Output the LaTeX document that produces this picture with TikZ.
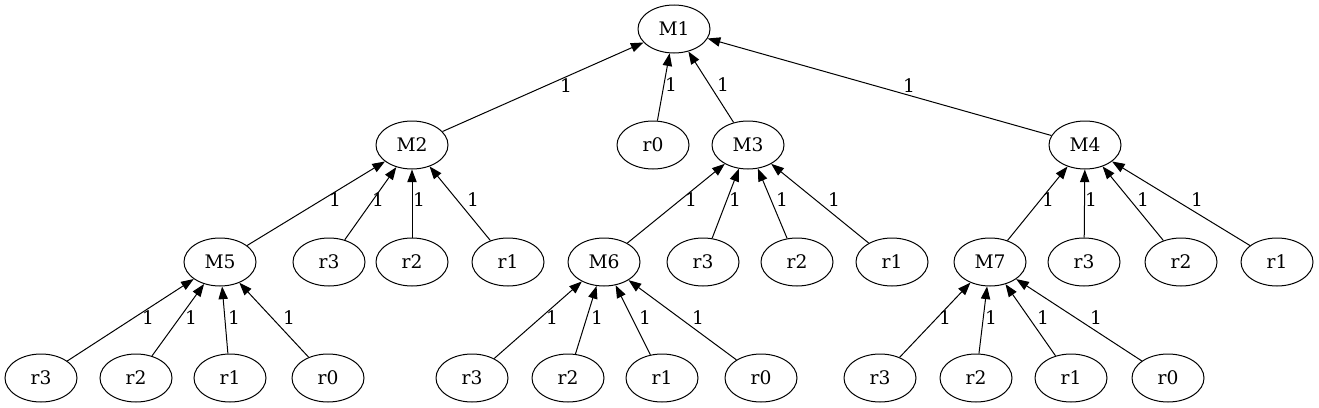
\documentclass[tikz,border=0pt]{standalone}
\usepackage{fontspec}
\setmainfont{DejaVu Serif}
\usetikzlibrary{shapes.geometric,arrows.meta}
\begin{document}
\begin{tikzpicture}[x=0.75pt,y=-0.75pt,
 nd/.style={ellipse,draw,line width=0.75pt,minimum width=54pt,minimum height=36pt,inner sep=0pt,font=\fontsize{14}{16}\selectfont},
 arr/.style={-{Triangle[length=9.5pt,width=7pt]},line width=0.75pt},
 lbl/.style={font=\fontsize{14}{16}\selectfont,inner sep=0pt}]
\useasboundingbox (0,0) rectangle (1319,407);
% level 1
\node[nd] (m1) at (674,29) {M1};
% level 2
\node[nd] (m2) at (412,145) {M2};
\node[nd] (a0) at (653,145) {r0};
\node[nd] (m3) at (748,145) {M3};
\node[nd] (m4) at (1085,145) {M4};
% level 3
\node[nd] (m5) at (220,262) {M5};
\node[nd] (b3) at (329,262) {r3};
\node[nd] (b2) at (412,262) {r2};
\node[nd] (b1) at (508,262) {r1};
\node[nd] (m6) at (604,262) {M6};
\node[nd] (c3) at (703,262) {r3};
\node[nd] (c2) at (797,262) {r2};
\node[nd] (c1) at (892,262) {r1};
\node[nd] (m7) at (990,262) {M7};
\node[nd] (d3) at (1084,262) {r3};
\node[nd] (d2) at (1181,262) {r2};
\node[nd] (d1) at (1277,262) {r1};
% level 4
\node[nd] (e3) at (41,378) {r3};
\node[nd] (e2) at (136,378) {r2};
\node[nd] (e1) at (230,378) {r1};
\node[nd] (e0) at (328,378) {r0};
\node[nd] (f3) at (472,378) {r3};
\node[nd] (f2) at (568,378) {r2};
\node[nd] (f1) at (662,378) {r1};
\node[nd] (f0) at (761,378) {r0};
\node[nd] (g3) at (880,378) {r3};
\node[nd] (g2) at (976,378) {r2};
\node[nd] (g1) at (1071,378) {r1};
\node[nd] (g0) at (1168,378) {r0};
% edges
\draw[arr] (m2) -- (m1);
\draw[arr] (a0) -- (m1);
\draw[arr] (m3) -- (m1);
\draw[arr] (m4) -- (m1);
\draw[arr] (m5) -- (m2);
\draw[arr] (b3) -- (m2);
\draw[arr] (b2) -- (m2);
\draw[arr] (b1) -- (m2);
\draw[arr] (m6) -- (m3);
\draw[arr] (c3) -- (m3);
\draw[arr] (c2) -- (m3);
\draw[arr] (c1) -- (m3);
\draw[arr] (m7) -- (m4);
\draw[arr] (d3) -- (m4);
\draw[arr] (d2) -- (m4);
\draw[arr] (d1) -- (m4);
\draw[arr] (e3) -- (m5);
\draw[arr] (e2) -- (m5);
\draw[arr] (e1) -- (m5);
\draw[arr] (e0) -- (m5);
\draw[arr] (f3) -- (m6);
\draw[arr] (f2) -- (m6);
\draw[arr] (f1) -- (m6);
\draw[arr] (f0) -- (m6);
\draw[arr] (g3) -- (m7);
\draw[arr] (g2) -- (m7);
\draw[arr] (g1) -- (m7);
\draw[arr] (g0) -- (m7);
% edge labels
\node[lbl] (l1) at (566,86) {1};
\node[lbl] (l2) at (671,85) {1};
\node[lbl] (l3) at (723,85) {1};
\node[lbl] (l4) at (909,86) {1};
\node[lbl] (l5) at (335,200) {1};
\node[lbl] (l6) at (378,200) {1};
\node[lbl] (l7) at (419,200) {1};
\node[lbl] (l8) at (473,200) {1};
\node[lbl] (l9) at (691,200) {1};
\node[lbl] (l10) at (735,200) {1};
\node[lbl] (l11) at (782,200) {1};
\node[lbl] (l12) at (834,200) {1};
\node[lbl] (l13) at (1048,200) {1};
\node[lbl] (l14) at (1091,200) {1};
\node[lbl] (l15) at (1143,200) {1};
\node[lbl] (l16) at (1197,200) {1};
\node[lbl] (l17) at (148,318) {1};
\node[lbl] (l18) at (191,318) {1};
\node[lbl] (l19) at (234,318) {1};
\node[lbl] (l20) at (289,318) {1};
\node[lbl] (l21) at (552,318) {1};
\node[lbl] (l22) at (597,318) {1};
\node[lbl] (l23) at (645,318) {1};
\node[lbl] (l24) at (698,318) {1};
\node[lbl] (l25) at (945,318) {1};
\node[lbl] (l26) at (991,318) {1};
\node[lbl] (l27) at (1043,318) {1};
\node[lbl] (l28) at (1096,318) {1};
\end{tikzpicture}
\end{document}
